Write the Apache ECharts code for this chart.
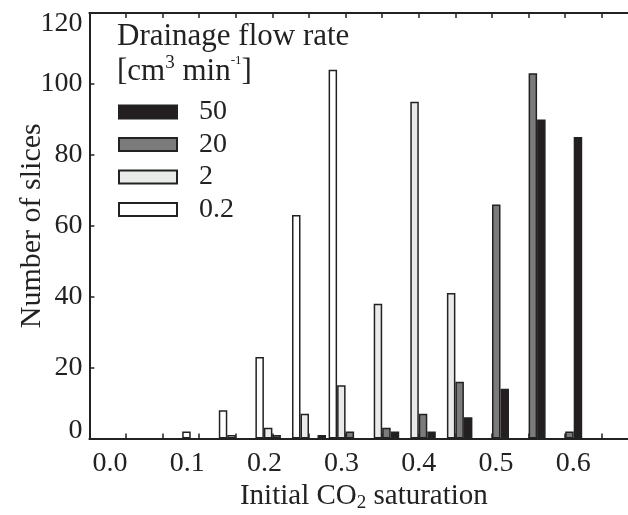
<!DOCTYPE html>
<html>
<head>
<meta charset="utf-8">
<script src="https://cdn.jsdelivr.net/npm/echarts@6/dist/echarts.min.js"></script>
<style>
  html, body { margin: 0; padding: 0; background: #fff; }
  #chart { width: 628px; height: 515px; }
</style>
</head>
<body>
<div id="chart"></div>
<script>
// bar positions (initial CO2 saturation bins), -0.05 and 0.7 are just padding
const bins = ['-0.05', '0.0', '0.05', '0.1', '0.15', '0.2', '0.25', '0.3', '0.35', '0.4', '0.45', '0.5', '0.55', '0.6', '0.65', '0.7']
const rate02 = [null, null, null, 2, 8, 23, 63, 104, null, null, null, null, null, null, null, null]
const rate2 = [null, null, null, null, 1, 3, 7, 15, 38, 95, 41, null, null, null, null, null]
const rate20 = [null, null, null, null, null, 1, null, 2, 3, 7, 16, 66, 103, 2, null, null]
const rate50 = [null, null, null, null, null, null, 1, null, 2, 2, 6, 14, 90, 85, null, null]
const xTicks = [0, 0.1, 0.2, 0.3, 0.4, 0.5, 0.6]
const yTicks = [0, 20, 40, 60, 80, 100, 120]

const font = 'Liberation Serif'
const ink = '#222'

const barStyle = (color) => ({
  color,
  borderColor: ink,
  borderWidth: 1.5,
})

const chart = echarts.init(document.getElementById('chart'))

const option = {
  animation: false,
  textStyle: { fontFamily: font, color: ink },
  title: {
    left: 117,
    top: 19,
    padding: 0,
    text: '{a|Drainage flow rate}\n{a|[cm}{s3|3}{a| min}{s1|-1}{a|]}',
    textStyle: {
      fontWeight: 'normal',
      rich: {
        a: { fontFamily: font, fontSize: 31, fontWeight: 'normal', color: ink, lineHeight: 35 },
        s3: { fontFamily: font, fontSize: 19, fontWeight: 'normal', color: ink, lineHeight: 30, verticalAlign: 'top' },
        s1: { fontFamily: font, fontSize: 13, fontWeight: 'normal', color: ink, lineHeight: 28, verticalAlign: 'top' },
      },
    },
  },
  legend: {
    data: ['50', '20', '2', '0.2'],
    orient: 'vertical',
    left: 118,
    top: 98,
    padding: 0,
    icon: 'rect',
    itemWidth: 58,
    itemHeight: 13,
    itemGap: 4.5,
    textStyle: { fontFamily: font, fontSize: 28, color: ink, padding: [0, 0, 0, 17] },
  },
  grid: [
    { left: 89.4, right: -10.4, top: 13, bottom: 76.5, containLabel: false, outerBoundsMode: 'none' },
    { left: 110, right: 54.8, top: 13, bottom: 76.5, containLabel: false, outerBoundsMode: 'none' },
  ],
  xAxis: [
    {
      type: 'category',
      gridIndex: 0,
      data: bins,
      boundaryGap: false,
      axisLine: { lineStyle: { color: ink, width: 2 } },
      axisTick: { inside: true, length: 5, interval: 0, lineStyle: { color: ink, width: 1.5 } },
      axisLabel: { show: false },
      name: '{a|Initial CO}{sub|2}{a| saturation}',
      nameLocation: 'middle',
      nameGap: 42,
      nameTextStyle: {
        rich: {
          a: { fontFamily: font, fontSize: 29, color: ink, lineHeight: 32 },
          sub: { fontFamily: font, fontSize: 19, color: ink, lineHeight: 14, verticalAlign: 'bottom' },
        },
      },
    },
    {
      type: 'category',
      gridIndex: 0,
      position: 'top',
      data: bins,
      boundaryGap: false,
      axisLine: { lineStyle: { color: ink, width: 2 } },
      axisTick: { inside: true, length: 5, interval: 0, lineStyle: { color: ink, width: 1.5 } },
      axisLabel: { show: false },
    },
    {
      type: 'value',
      gridIndex: 1,
      min: xTicks[0],
      max: xTicks[xTicks.length - 1],
      interval: 0.1,
      axisLine: { show: false },
      axisTick: { show: false },
      splitLine: { show: false },
      axisLabel: {
        margin: 11,
        fontFamily: font,
        fontSize: 28,
        color: ink,
        formatter: (v) => v.toFixed(1),
      },
    },
  ],
  yAxis: [
    {
      type: 'value',
      gridIndex: 0,
      min: yTicks[0],
      max: yTicks[yTicks.length - 1],
      interval: 20,
      axisLine: { show: true, lineStyle: { color: ink, width: 2 } },
      axisTick: { show: true, inside: true, length: 5, lineStyle: { color: ink, width: 1.5 } },
      splitLine: { show: false },
      axisLabel: {
        margin: 7,
        formatter: (v) => {
          if (v === yTicks[0]) return `{lo|${v}}`
          if (v === yTicks[yTicks.length - 1]) return `{hi|${v}}`
          return `{n|${v}}`
        },
        rich: {
          n: { fontFamily: font, fontSize: 28, color: ink },
          lo: { fontFamily: font, fontSize: 28, color: ink, padding: [0, 0, 16, 0] },
          hi: { fontFamily: font, fontSize: 28, color: ink, padding: [22, 0, 0, 0] },
        },
      },
      name: 'Number of slices',
      nameLocation: 'middle',
      nameGap: 42,
      nameMoveOverlap: false,
      nameTextStyle: { fontFamily: font, fontSize: 30, color: ink },
    },
    { type: 'value', gridIndex: 1, min: 0, max: 1, show: false },
  ],
  series: [
    { name: '0.2', type: 'bar', data: rate02, barWidth: 8.5, barGap: '0%', itemStyle: barStyle('#ffffff') },
    { name: '2', type: 'bar', data: rate2, barWidth: 8.5, barGap: '0%', itemStyle: barStyle('#e9ebe9') },
    { name: '20', type: 'bar', data: rate20, barWidth: 8.5, barGap: '0%', itemStyle: barStyle('#7b7b7b') },
    { name: '50', type: 'bar', data: rate50, barWidth: 8.5, barGap: '0%', itemStyle: barStyle('#231f20') },
  ],
}

chart.setOption(option)
</script>
</body>
</html>
